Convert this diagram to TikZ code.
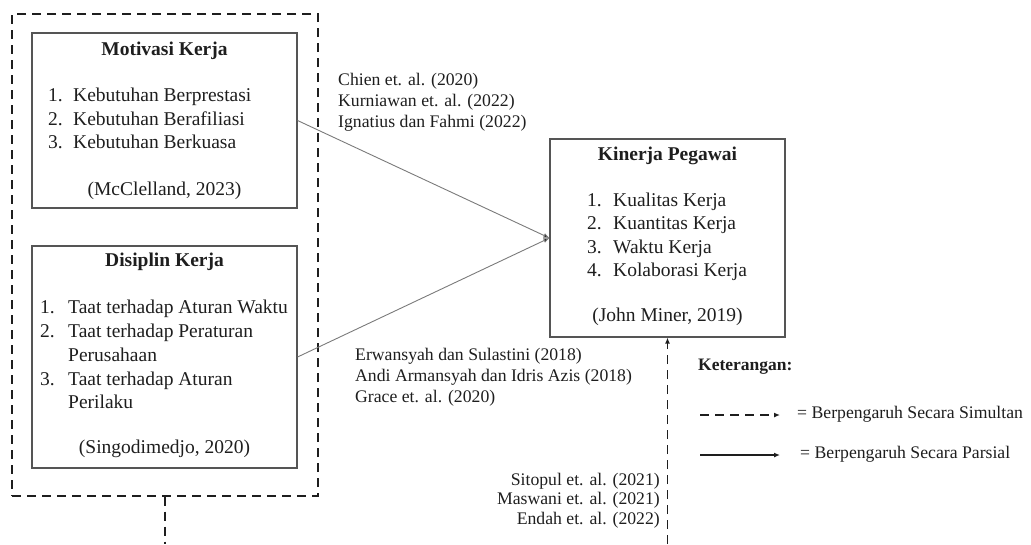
\documentclass[tikz,border=0pt]{standalone}
\usepackage{fontspec}
\setmainfont{Liberation Serif}
\usetikzlibrary{arrows.meta}
\definecolor{boxgray}{HTML}{555555}
\definecolor{linegray}{HTML}{7A7A7A}
\definecolor{inkc}{HTML}{1E1E1E}
\begin{document}
\begin{tikzpicture}[x=1pt,y=-1pt,
  box/.style={draw=boxgray, line width=1.1pt, rectangle, inner sep=0pt},
  txt/.style={inner sep=0pt, text height=0.68em, text depth=0pt, text=inkc, font=\fontsize{19.5}{23}\selectfont},
  ttl/.style={txt, font=\fontsize{19.5}{23}\selectfont\bfseries},
  cit/.style={inner sep=0pt, text height=0.68em, text depth=0pt, text=inkc, font=\fontsize{17.7}{21}\selectfont},
  simul/.style={draw=inkc, line width=1.2pt, dash pattern=on 9pt off 6pt},
  partial/.style={draw=linegray, line width=0.9pt, -{Latex[length=6pt,width=5pt,fill=black]}},
  tipd/.style={-{Latex[length=6pt,width=5pt]}}
]
\useasboundingbox (0,0) rectangle (1031,544);

% outer dashed group
\node[draw=inkc, line width=1.2pt, dash pattern=on 9pt off 6pt, rectangle, inner sep=0pt,
  minimum width=306pt, minimum height=482pt] (outer) at (165,255) {};

% Motivasi Kerja
\node[box, minimum width=265pt, minimum height=175pt] (mot) at (164.5,120.5) {};
\node[ttl] (motT) at (164.5,52) {Motivasi Kerja};
\node[txt, anchor=west] (m1n) at (48,98) {1.};
\node[txt, anchor=west] (m1) at (73,98) {Kebutuhan Berprestasi};
\node[txt, anchor=west] (m2n) at (48,122) {2.};
\node[txt, anchor=west] (m2) at (73,122) {Kebutuhan Berafiliasi};
\node[txt, anchor=west] (m3n) at (48,145) {3.};
\node[txt, anchor=west] (m3) at (73,145) {Kebutuhan Berkuasa};
\node[txt] (motS) at (164.5,192) {(McClelland, 2023)};

% Disiplin Kerja
\node[box, minimum width=265pt, minimum height=222pt] (dis) at (164.5,357) {};
\node[ttl] (disT) at (164.5,263) {Disiplin Kerja};
\node[txt, anchor=west] (d1n) at (40,310) {1.};
\node[txt, anchor=west] (d1) at (68,310) {Taat terhadap Aturan Waktu};
\node[txt, anchor=west] (d2n) at (40,334) {2.};
\node[txt, anchor=west] (d2) at (68,334) {Taat terhadap Peraturan};
\node[txt, anchor=west] (d2b) at (68,358) {Perusahaan};
\node[txt, anchor=west] (d3n) at (40,382) {3.};
\node[txt, anchor=west] (d3) at (68,382) {Taat terhadap Aturan};
\node[txt, anchor=west] (d3b) at (68,405) {Perilaku};
\node[txt] (disS) at (164.5,450) {(Singodimedjo, 2020)};

% Kinerja Pegawai
\node[box, minimum width=235pt, minimum height=198pt] (kin) at (667.5,238) {};
\node[ttl] (kinT) at (667.5,157) {Kinerja Pegawai};
\node[txt, anchor=west] (k1n) at (587,203) {1.};
\node[txt, anchor=west] (k1) at (613,203) {Kualitas Kerja};
\node[txt, anchor=west] (k2n) at (587,226.5) {2.};
\node[txt, anchor=west] (k2) at (613,226.5) {Kuantitas Kerja};
\node[txt, anchor=west] (k3n) at (587,250) {3.};
\node[txt, anchor=west] (k3) at (613,250) {Waktu Kerja};
\node[txt, anchor=west] (k4n) at (587,273.5) {4.};
\node[txt, anchor=west] (k4) at (613,273.5) {Kolaborasi Kerja};
\node[txt] (kinS) at (667.5,318) {(John Miner, 2019)};

% citations
\node[cit, anchor=west] (c1) at (338,82) {Chien et. al. (2020)};
\node[cit, anchor=west] (c2) at (338,103) {Kurniawan et. al. (2022)};
\node[cit, anchor=west] (c3) at (338,124) {Ignatius dan Fahmi (2022)};
\node[cit, anchor=west] (e1) at (355,357) {Erwansyah dan Sulastini (2018)};
\node[cit, anchor=west] (e2) at (355,378) {Andi Armansyah dan Idris Azis (2018)};
\node[cit, anchor=west] (e3) at (355,399) {Grace et. al. (2020)};
\node[cit, anchor=east] (s1) at (660,482) {Sitopul et. al. (2021)};
\node[cit, anchor=east] (s2) at (660,501.5) {Maswani et. al. (2021)};
\node[cit, anchor=east] (s3) at (660,521) {Endah et. al. (2022)};

% connectors
\draw[partial] (mot.east) -- (kin.west);
\draw[partial] (dis.east) -- (kin.west);
\coordinate (bl) at (165,544);
\coordinate (br) at (667.5,544);
\draw[simul] (outer.south) -- (bl);
\draw[simul, tipd] (br) -- (kin.south);

% legend
\node[cit, anchor=west, font=\fontsize{17.5}{21}\selectfont\bfseries] (ket) at (698,367) {Keterangan:};
\coordinate (l1a) at (700,415);
\coordinate (l1b) at (780,415);
\coordinate (l2a) at (700,455);
\coordinate (l2b) at (780,455);
\draw[simul, tipd] (l1a) -- (l1b);
\draw[draw=inkc, line width=1.3pt, tipd] (l2a) -- (l2b);
\node[cit, anchor=west] (lt1) at (797,415) {= Berpengaruh Secara Simultan};
\node[cit, anchor=west] (lt2) at (800,455) {= Berpengaruh Secara Parsial};
\end{tikzpicture}
\end{document}
